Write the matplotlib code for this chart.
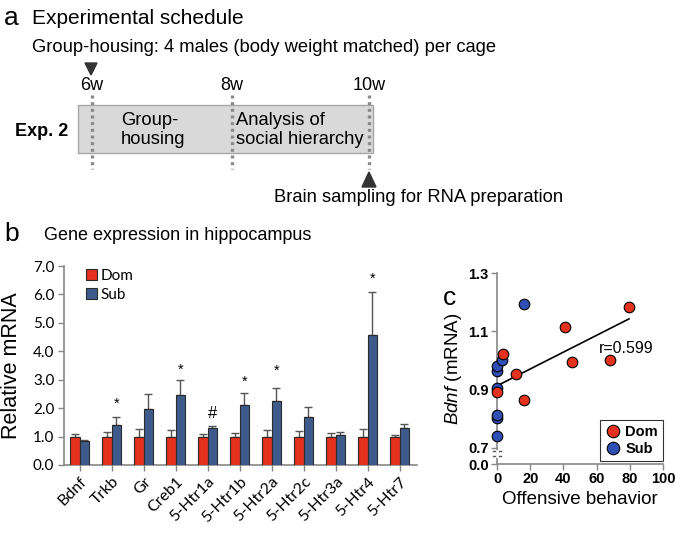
import numpy as np
import matplotlib
matplotlib.use("Agg")
import matplotlib.pyplot as plt
from matplotlib.patches import Rectangle, Polygon
from matplotlib.lines import Line2D

plt.rcParams['mathtext.fontset'] = 'custom'
plt.rcParams['mathtext.it'] = 'Liberation Sans:italic'
plt.rcParams['mathtext.rm'] = 'Liberation Sans'

# ---------------- data ----------------
genes = ['Bdnf', 'Trkb', 'Gr', 'Creb1', '5-Htr1a', '5-Htr1b', '5-Htr2a',
         '5-Htr2c', '5-Htr3a', '5-Htr4', '5-Htr7']
dom_mean = [1.0, 1.0, 1.0, 1.0, 1.0, 1.0, 1.0, 1.0, 1.0, 1.0, 1.0]
dom_top = [1.10, 1.16, 1.26, 1.24, 1.10, 1.13, 1.24, 1.21, 1.14, 1.26, 1.07]
sub_mean = [0.84, 1.42, 1.97, 2.46, 1.29, 2.11, 2.26, 1.68, 1.05, 4.59, 1.29]
sub_top = [0.87, 1.70, 2.48, 2.98, 1.38, 2.55, 2.71, 2.05, 1.16, 6.10, 1.45]
sig_marks = ['', '*', '', '*', '#', '*', '*', '', '', '*', '']
sig_y = [0, 2.15, 0, 3.34, 1.80, 2.91, 3.30, 0, 0, 6.55, 0]
yticks_b = [0, 1, 2, 3, 4, 5, 6, 7]

dom_x = [0, 3.6, 11.4, 16.5, 41.2, 45.2, 67.9, 79.5]
dom_y = [0.893, 1.023, 0.954, 0.863, 1.114, 0.994, 1.003, 1.183]
sub_x = [0.2, 0, 0, 0, 0, 0, 3.0, 16.3]
sub_y = [0.742, 0.803, 0.812, 0.906, 0.963, 0.982, 1.003, 1.194]
r_text = 'r=0.599'
xticks_c = [0, 20, 40, 60, 80, 100]
yticks_c = [0.7, 0.9, 1.1, 1.3]

RED = '#E5321F'
BLUE_BAR = '#3F5B8B'
BLUE_PT = '#2F4FB5'
GRAY = '#888888'
ARIAL = 'Liberation Sans'
CAL = 'Lato'

W, H = 675, 533
fig = plt.figure(figsize=(W / 100, H / 100), dpi=100)

# ---------------- panel a (schematic, pixel coordinates) ----------------
ax0 = fig.add_axes([0, 0, 1, 1])
ax0.set_xlim(0, W)
ax0.set_ylim(H, 0)
ax0.axis('off')

ax0.text(4, 18, 'a', fontsize=19, family=ARIAL, va='center', ha='left')
ax0.text(32, 18, 'Experimental schedule', fontsize=15, family=ARIAL, va='center', ha='left')
ax0.text(32, 47, 'Group-housing: 4 males (body weight matched) per cage', fontsize=13.2,
         family=ARIAL, va='center', ha='left')
ax0.add_patch(Rectangle((78, 105), 295, 48, facecolor='#d9d9d9', edgecolor='#a6a6a6', lw=1))
for xw, lab in [(92, '6w'), (232, '8w'), (369, '10w')]:
    ax0.add_line(Line2D([xw, xw], [95, 169], color='#8a8a8a', lw=2.4,
                        linestyle=(0, (0.9, 1.1))))
    ax0.text(xw, 86, lab, fontsize=13, family=ARIAL, va='center', ha='center')
ax0.add_patch(Polygon([(85, 63), (97, 63), (91, 75)], closed=True, color='#333333'))
ax0.add_patch(Polygon([(362, 187), (376, 187), (369, 172)], closed=True, color='#333333'))
ax0.text(15, 131, 'Exp. 2', fontsize=13, family=ARIAL, weight='bold', va='center', ha='left')
ax0.text(121, 130, 'Group-\nhousing', fontsize=13.2, family=ARIAL, va='center', ha='left',
         multialignment='left', linespacing=1.15)
ax0.text(236, 130, 'Analysis of\nsocial hierarchy', fontsize=13.2, family=ARIAL, va='center',
         ha='left', multialignment='left', linespacing=1.15)
ax0.text(274, 198, 'Brain sampling for RNA preparation', fontsize=13.2, family=ARIAL,
         va='center', ha='left')

ax0.text(4, 234, 'b', fontsize=19, family=ARIAL, va='center', ha='left')
ax0.text(44, 236, 'Gene expression in hippocampus', fontsize=13, family=ARIAL,
         va='center', ha='left')
ax0.text(443, 298, 'c', fontsize=19, family=ARIAL, va='center', ha='left')

# ---------------- panel b ----------------
axb = fig.add_axes([64 / W, (H - 465) / H, (417 - 64) / W, (465 - 266) / H])
x = np.arange(len(genes))
bw = 0.29
dom_err = [t - m for t, m in zip(dom_top, dom_mean)]
sub_err = [t - m for t, m in zip(sub_top, sub_mean)]
zeros = [0] * len(genes)
bd = axb.bar(x - bw / 2, dom_mean, bw, color=RED, edgecolor='#2a2a2a', lw=0.8, label='Dom',
             zorder=3)
bs = axb.bar(x + bw / 2, sub_mean, bw, color=BLUE_BAR, edgecolor='#2a2a2a', lw=0.8,
             label='Sub', zorder=3)
axb.errorbar(x - bw / 2, dom_mean, yerr=[zeros, dom_err], fmt='none', ecolor='#555555',
             elinewidth=1, capsize=3, capthick=1, zorder=2)
axb.errorbar(x + bw / 2, sub_mean, yerr=[zeros, sub_err], fmt='none', ecolor='#555555',
             elinewidth=1, capsize=3, capthick=1, zorder=2)
for xi, m, yy in zip(x, sig_marks, sig_y):
    if m:
        axb.text(xi + bw / 2, yy, m, ha='center', va='center',
                 fontsize=12 if m == '#' else 10.5, family=ARIAL)
axb.set_xlim(-0.49, 10.54)
axb.set_ylim(0, 7)
axb.set_yticks(yticks_b)
axb.set_yticklabels([f'{v:.1f}' for v in yticks_b], family=CAL, fontsize=11)
axb.set_xticks(x)
axb.set_xticklabels(genes, rotation=45, ha='right', rotation_mode='anchor', family=CAL,
                    fontsize=11.5)
for s in ['top', 'right']:
    axb.spines[s].set_visible(False)
for s in ['left', 'bottom']:
    axb.spines[s].set_color(GRAY)
    axb.spines[s].set_linewidth(1.2)
axb.tick_params(axis='both', direction='out', length=4, color=GRAY, width=1)
axb.tick_params(axis='y', pad=3)
axb.tick_params(axis='x', pad=3)
axb.set_ylabel('Relative mRNA', family=ARIAL, fontsize=15.5)
axb.yaxis.set_label_coords(-0.118, 0.5)
axb.legend(handles=[bd, bs], labels=['Dom', 'Sub'], loc='upper left',
           bbox_to_anchor=(0.063, 0.985), frameon=False, handlelength=0.7, handleheight=0.7,
           handletextpad=0.25, labelspacing=0.3, borderpad=0, borderaxespad=0,
           prop={'family': CAL, 'size': 11})

# ---------------- panel c ----------------
axc = fig.add_axes([497 / W, (H - 464) / H, 166 / W, (464 - 273) / H])
ybot = 0.645
axc.set_xlim(0, 100)
axc.set_ylim(ybot, 1.3)
allx = np.array(dom_x + sub_x)
ally = np.array(dom_y + sub_y)
k, b0 = np.polyfit(allx, ally, 1)
xl = np.array([allx.min(), allx.max()])
axc.plot(xl, k * xl + b0, color='black', lw=1.2, zorder=2)
axc.scatter(sub_x, sub_y, s=58, color=BLUE_PT, edgecolor='black', lw=0.8, zorder=3,
            clip_on=False)
axc.scatter(dom_x, dom_y, s=58, color=RED, edgecolor='black', lw=0.8, zorder=4,
            clip_on=False)
axc.text(61.5, 1.042, r_text, family=ARIAL, fontsize=11.5, ha='left', va='center')
axc.set_xticks(xticks_c)
axc.set_xticklabels([str(v) for v in xticks_c], family=ARIAL, weight='bold', fontsize=10.5)
axc.set_yticks([ybot] + yticks_c)
axc.set_yticklabels(['0.0'] + [f'{v:.1f}' for v in yticks_c], family=ARIAL, weight='bold',
                    fontsize=10.5)
for s in ['top', 'right']:
    axc.spines[s].set_visible(False)
for s in ['left', 'bottom']:
    axc.spines[s].set_color(GRAY)
    axc.spines[s].set_linewidth(1.2)
axc.tick_params(axis='both', direction='out', length=4, color=GRAY, width=1, pad=2)
# axis break marks
for yb in [0.690, 0.672]:
    axc.plot([-2.5, 2.5], [yb, yb], color='#555555', lw=1, clip_on=False, zorder=5)
axc.plot([0, 0], [0.6735, 0.6885], color='white', lw=2, clip_on=False, zorder=5)
axc.set_ylabel(r'$\mathit{Bdnf}$ (mRNA)', family=ARIAL, fontsize=13.5, labelpad=3)
axc.set_xlabel('Offensive behavior', family=ARIAL, fontsize=13.5, labelpad=3)
hd = Line2D([], [], marker='o', ls='none', markersize=9, markerfacecolor=RED,
            markeredgecolor='black', markeredgewidth=0.8)
hs = Line2D([], [], marker='o', ls='none', markersize=9, markerfacecolor=BLUE_PT,
            markeredgecolor='black', markeredgewidth=0.8)
lg = axc.legend([hd, hs], ['Dom', 'Sub'], loc='lower right', bbox_to_anchor=(1.0, 0.015),
                frameon=True, fancybox=False, handletextpad=0.35, labelspacing=0.2,
                borderpad=0.35, borderaxespad=0, handlelength=1.0,
                prop={'family': ARIAL, 'weight': 'bold', 'size': 10.5})
lg.get_frame().set_edgecolor('black')
lg.get_frame().set_linewidth(0.8)

fig.savefig('out.png', dpi=100)
